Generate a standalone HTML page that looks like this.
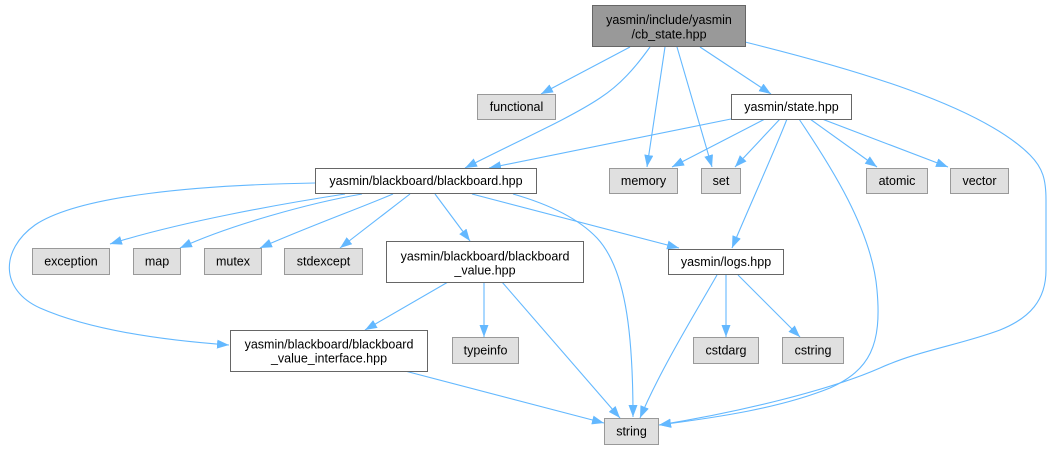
<!DOCTYPE html>
<html>
<head>
<meta charset="utf-8">
<style>
html,body{margin:0;padding:0;background:#fff;}
svg{display:block;}
text{font-family:"Liberation Sans",Arial,sans-serif;font-size:12.5px;fill:#000;text-anchor:middle;}
.e{fill:none;stroke:#63b8ff;stroke-width:1.1;}
.g{fill:#e0e0e0;stroke:#999999;stroke-width:1;}
.w{fill:#ffffff;stroke:#666666;stroke-width:1;}
.m{fill:#999999;stroke:#666666;stroke-width:1;}
</style>
</head>
<body>
<svg width="1051" height="450" viewBox="0 0 1051 450" xmlns="http://www.w3.org/2000/svg">
<defs>
<marker id="a" markerUnits="userSpaceOnUse" markerWidth="13" markerHeight="10" refX="12" refY="4.5" orient="auto">
<path d="M0,0 L12,4.5 L0,9 z" fill="#63b8ff"/>
</marker>
</defs>

<g marker-end="url(#a)">
<path class="e" d="M630,47 L541,94" marker-end="url(#a)"/>
<path class="e" d="M650,47 C635,68 620,85 600,98 C570,118 520,140 465,168" marker-end="url(#a)"/>
<path class="e" d="M665,47 L647,167" marker-end="url(#a)"/>
<path class="e" d="M677,47 L712,167" marker-end="url(#a)"/>
<path class="e" d="M700,47 L771,94" marker-end="url(#a)"/>
<path class="e" d="M745,42 C850,68 980,105 1030,155 C1043,168 1046,180 1046,200 L1046,270 C1046,300 1030,318 1000,330 C960,345 920,350 880,368 C830,390 740,412 659,425" marker-end="url(#a)"/>

<path class="e" d="M731,119 L489,168" marker-end="url(#a)"/>
<path class="e" d="M765,119 L672,167" marker-end="url(#a)"/>
<path class="e" d="M780,119 L735,167" marker-end="url(#a)"/>
<path class="e" d="M787,119 C775,150 750,205 732,248" marker-end="url(#a)"/>
<path class="e" d="M799,119 C830,165 872,230 877,290 C882,345 870,370 830,388 C780,408 720,417 659,425" marker-end="url(#a)"/>
<path class="e" d="M810,119 L877,167" marker-end="url(#a)"/>
<path class="e" d="M822,119 L948,167" marker-end="url(#a)"/>

<path class="e" d="M315,183 C200,185 80,195 35,225 C0,250 0,290 40,308 C90,330 160,340 229,345" marker-end="url(#a)"/>
<path class="e" d="M345,194 C280,204 180,222 110,244" marker-end="url(#a)"/>
<path class="e" d="M362,194 C310,203 230,225 180,248" marker-end="url(#a)"/>
<path class="e" d="M393,194 C360,208 300,230 260,248" marker-end="url(#a)"/>
<path class="e" d="M410,194 L340,248" marker-end="url(#a)"/>
<path class="e" d="M435,194 L470,241" marker-end="url(#a)"/>
<path class="e" d="M472,194 L679,248" marker-end="url(#a)"/>
<path class="e" d="M513,194 C548,204 578,218 597,238 C625,268 633,330 633,417" marker-end="url(#a)"/>

<path class="e" d="M448,282 L365,330" marker-end="url(#a)"/>
<path class="e" d="M484,282 L484,337" marker-end="url(#a)"/>
<path class="e" d="M502,282 L620,418" marker-end="url(#a)"/>
<path class="e" d="M405,371 L604,423" marker-end="url(#a)"/>

<path class="e" d="M717,275 C700,305 660,370 640,418" marker-end="url(#a)"/>
<path class="e" d="M726,275 L726,337" marker-end="url(#a)"/>
<path class="e" d="M738,275 L800,337" marker-end="url(#a)"/>
</g>

<!-- nodes -->
<rect class="m" x="592.5" y="5.5" width="153" height="41"/>
<text x="669" y="24">yasmin/include/yasmin</text>
<text x="669" y="38.5">/cb_state.hpp</text>

<rect class="g" x="477.5" y="94.5" width="78" height="25"/>
<text x="516.5" y="111">functional</text>

<rect class="w" x="731.5" y="94.5" width="120" height="25"/>
<text x="791.5" y="111">yasmin/state.hpp</text>

<rect class="w" x="315.5" y="168.5" width="221" height="25"/>
<text x="426" y="185">yasmin/blackboard/blackboard.hpp</text>

<rect class="g" x="609.5" y="168.5" width="68" height="25"/>
<text x="643.5" y="185">memory</text>

<rect class="g" x="701.5" y="168.5" width="39" height="25"/>
<text x="721" y="185">set</text>

<rect class="g" x="866.5" y="168.5" width="61" height="25"/>
<text x="897" y="185">atomic</text>

<rect class="g" x="950.5" y="168.5" width="58" height="25"/>
<text x="979.5" y="185">vector</text>

<rect class="g" x="32.5" y="248.5" width="77" height="26"/>
<text x="71" y="265.5">exception</text>

<rect class="g" x="133.5" y="248.5" width="47" height="26"/>
<text x="157" y="265.5">map</text>

<rect class="g" x="204.5" y="248.5" width="57" height="26"/>
<text x="233" y="265.5">mutex</text>

<rect class="g" x="284.5" y="248.5" width="78" height="26"/>
<text x="323.5" y="265.5">stdexcept</text>

<rect class="w" x="386.5" y="241.5" width="197" height="41"/>
<text x="485" y="260.5">yasmin/blackboard/blackboard</text>
<text x="485" y="274.5">_value.hpp</text>

<rect class="w" x="668.5" y="249.5" width="115" height="25"/>
<text x="726" y="266">yasmin/logs.hpp</text>

<rect class="w" x="230.5" y="330.5" width="197" height="41"/>
<text x="329" y="348.5">yasmin/blackboard/blackboard</text>
<text x="329" y="362.5">_value_interface.hpp</text>

<rect class="g" x="452.5" y="337.5" width="66" height="26"/>
<text x="485.5" y="354.5">typeinfo</text>

<rect class="g" x="693.5" y="337.5" width="65" height="26"/>
<text x="726" y="354.5">cstdarg</text>

<rect class="g" x="782.5" y="337.5" width="61" height="26"/>
<text x="813" y="354.5">cstring</text>

<rect class="g" x="604.5" y="418.5" width="54" height="26"/>
<text x="631.5" y="435.5">string</text>
</svg>
</body>
</html>
